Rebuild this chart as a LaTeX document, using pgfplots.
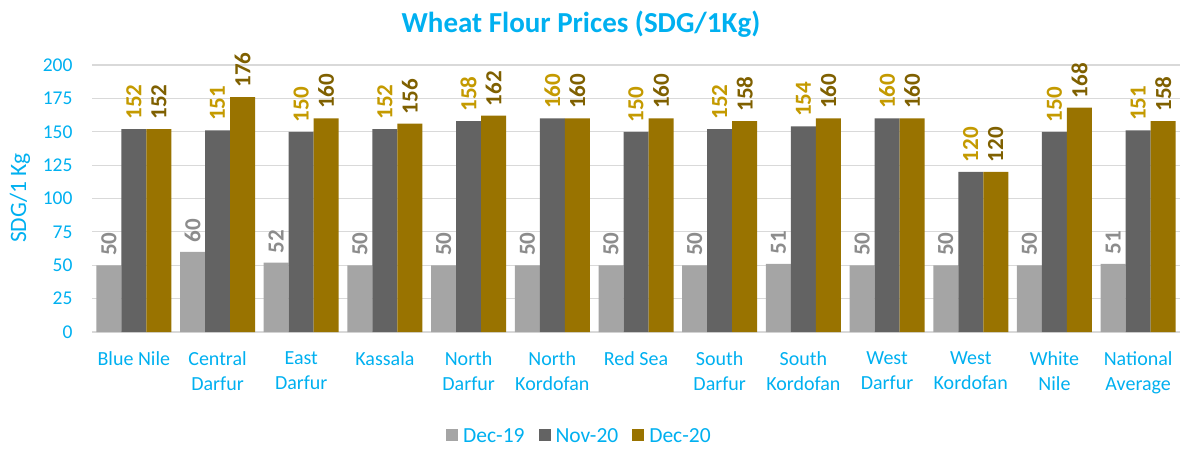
\documentclass[border=0pt]{standalone}
\usepackage{fontspec}
\setmainfont{Carlito}
\usepackage{pgfplots}
\pgfplotsset{compat=1.18}
\definecolor{cyanT}{HTML}{00B0F0}
\definecolor{cA}{HTML}{A5A5A5}
\definecolor{cB}{HTML}{636363}
\definecolor{cC}{HTML}{997300}
\definecolor{lA}{HTML}{8C8C8C}
\definecolor{lB}{HTML}{C49A00}
\definecolor{lC}{HTML}{7F6000}
\definecolor{gridc}{HTML}{D9D9D9}
\begin{document}
\begin{tikzpicture}[x=1pt,y=1pt]
\path (0,0) rectangle (1182,448);
\node[font=\fontsize{29}{32}\selectfont\bfseries, text=cyanT] at (581,424) {Wheat Flour Prices (SDG/1Kg)};
\node[font=\fontsize{23.5}{26}\selectfont, text=cyanT, rotate=90] at (20,250) {SDG/1 Kg};
\begin{axis}[
  at={(92pt,116pt)}, anchor=south west,
  scale only axis, width=1088pt, height=267pt,
  xmin=-0.5, xmax=12.5, ymin=0, ymax=200,
  ytick={0,25,...,200},
  xtick={0,...,12},
  xticklabels={Blue Nile,Central\\Darfur,East\\Darfur,Kassala,North\\Darfur,North\\Kordofan,Red Sea,South\\Darfur,South\\Kordofan,West\\Darfur,West\\Kordofan,White\\Nile,National\\Average},
  xticklabel style={align=center, text=cyanT, font=\fontsize{20}{25}\selectfont, anchor=north, yshift=-16pt},
  yticklabel style={text=cyanT, font=\fontsize{19.5}{22}\selectfont, xshift=-16pt},
  /pgf/number format/assume math mode=true,
  major tick length=0pt,
  ymajorgrids, grid style={gridc, line width=1.2pt},
  axis line style={draw=none},
  axis x line*=bottom,
  x axis line style={draw=gridc, line width=1.5pt},
  ybar, bar width=25pt,
  nodes near coords,
  every node near coord/.append style={rotate=90, anchor=west, font=\fontsize{23}{26}\selectfont\bfseries, xshift=6pt},
  legend style={at={(0.448,-0.345)}, anchor=north, draw=none, legend columns=-1, font=\fontsize{21.5}{24}\selectfont, text=cyanT,
    /tikz/every even column/.append style={column sep=12pt},
    /tikz/every odd column/.append style={column sep=3pt}},
  legend image code/.code={\fill[#1] (0pt,-5pt) rectangle (12pt,7pt);},
  clip=false,
]
\addplot[fill=cA, draw=none, bar shift=-25pt, every node near coord/.append style={text=lA}] coordinates {
(0,50) (1,60) (2,52) (3,50) (4,50) (5,50) (6,50) (7,50) (8,51) (9,50) (10,50) (11,50) (12,51)};
\addplot[fill=cB, draw=none, bar shift=0pt, every node near coord/.append style={text=lB}] coordinates {
(0,152) (1,151) (2,150) (3,152) (4,158) (5,160) (6,150) (7,152) (8,154) (9,160) (10,120) (11,150) (12,151)};
\addplot[fill=cC, draw=none, bar shift=25pt, every node near coord/.append style={text=lC}] coordinates {
(0,152) (1,176) (2,160) (3,156) (4,162) (5,160) (6,160) (7,158) (8,160) (9,160) (10,120) (11,168) (12,158)};
\legend{Dec-19,Nov-20,Dec-20}
\end{axis}
\end{tikzpicture}
\end{document}
